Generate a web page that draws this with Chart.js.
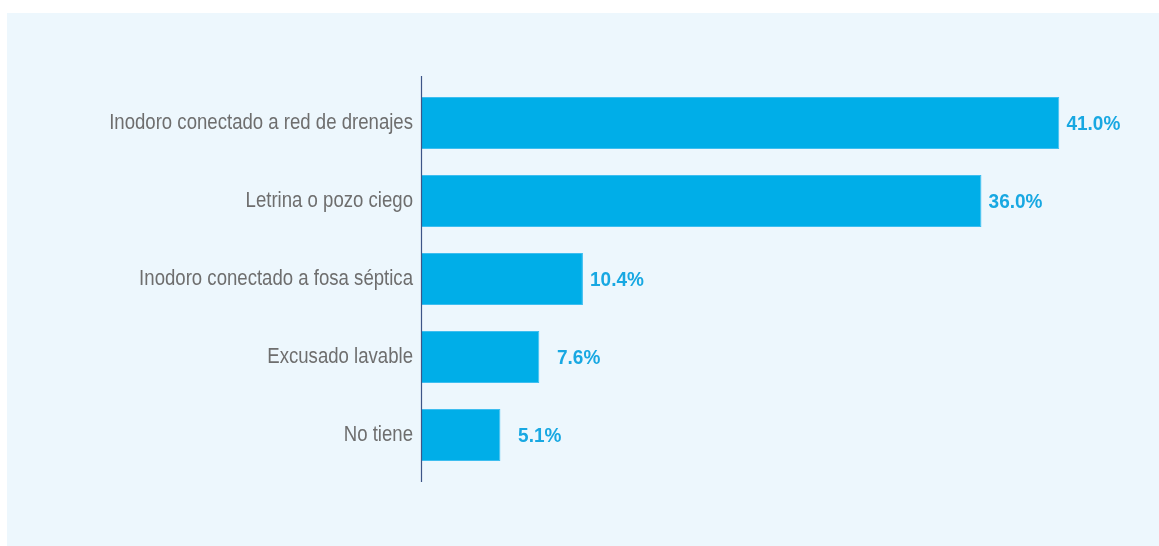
<!DOCTYPE html>
<html>
<head>
<meta charset="utf-8">
<script src="https://cdn.jsdelivr.net/npm/chart.js@4/dist/chart.umd.min.js"></script>
<style>
  html, body { margin: 0; padding: 0; background: #ffffff; }
  #panel { position: absolute; left: 7px; top: 13px; width: 1152px; height: 533px; background: #edf7fd; }
  #wrap { position: absolute; left: 0; top: 0; width: 1159px; height: 546px; }
</style>
</head>
<body>
<div id="panel"></div>
<div id="wrap"><canvas id="myChart" width="1159" height="546"></canvas></div>
<script>
// data
var categories = [
  'Inodoro conectado a red de drenajes',
  'Letrina o pozo ciego',
  'Inodoro conectado a fosa séptica',
  'Excusado lavable',
  'No tiene'
];
var values = [41.0, 36.0, 10.4, 7.6, 5.1];

var labelFont = '"Liberation Sans", Arial, sans-serif';

// axis line that runs a bit past the bars
var axisLine = {
  id: 'axisLine',
  afterDraw: function (chart) {
    var ctx = chart.ctx;
    var x = chart.scales.y.right;
    ctx.save();
    ctx.strokeStyle = '#3d5587';
    ctx.lineWidth = 1.2;
    ctx.beginPath();
    ctx.moveTo(x + 0.5, chart.chartArea.top - 8);
    ctx.lineTo(x + 0.5, chart.chartArea.bottom + 8);
    ctx.stroke();
    ctx.restore();
  }
};

// category names, a bit narrowed like the original
var categoryLabels = {
  id: 'categoryLabels',
  afterDraw: function (chart) {
    var ctx = chart.ctx;
    var yScale = chart.scales.y;
    ctx.save();
    ctx.font = '22px ' + labelFont;
    ctx.fillStyle = '#6e6e6e';
    ctx.textAlign = 'right';
    ctx.textBaseline = 'middle';
    categories.forEach(function (name, i) {
      ctx.save();
      ctx.translate(yScale.right - 8, yScale.getPixelForTick(i));
      ctx.scale(0.845, 1);
      ctx.fillText(name, 0, 0);
      ctx.restore();
    });
    ctx.restore();
  }
};

// percentage labels at bar ends (right edge kept at a fixed distance)
var valueLabels = {
  id: 'valueLabels',
  afterDatasetsDraw: function (chart) {
    var ctx = chart.ctx;
    var meta = chart.getDatasetMeta(0);
    ctx.save();
    ctx.font = 'bold 20px ' + labelFont;
    ctx.fillStyle = '#18a8e2';
    ctx.textAlign = 'right';
    ctx.textBaseline = 'middle';
    meta.data.forEach(function (bar, i) {
      ctx.save();
      ctx.translate(bar.x + 61, bar.y + 1);
      ctx.scale(0.95, 1);
      ctx.fillText(values[i].toFixed(1) + '%', 0, 0);
      ctx.restore();
    });
    ctx.restore();
  }
};

var ctx = document.getElementById('myChart').getContext('2d');
var myChart = new Chart(ctx, {
  type: 'bar',
  data: {
    labels: categories,
    datasets: [{
      data: values,
      backgroundColor: '#00aee8',
      borderColor: '#3ebef0',
      borderWidth: 1,
      barPercentage: 0.667,
      categoryPercentage: 1.0
    }]
  },
  options: {
    indexAxis: 'y',
    responsive: false,
    animation: false,
    layout: { padding: { left: 0, right: 39, top: 84, bottom: 72 } },
    plugins: {
      legend: { display: false },
      tooltip: { enabled: false }
    },
    scales: {
      x: {
        display: false,
        min: 0,
        max: 44.9
      },
      y: {
        grid: { display: false },
        border: { display: false },
        afterFit: function (scale) { scale.width = 421; },
        ticks: { display: false }
      }
    }
  },
  plugins: [axisLine, categoryLabels, valueLabels]
});
</script>
</body>
</html>
